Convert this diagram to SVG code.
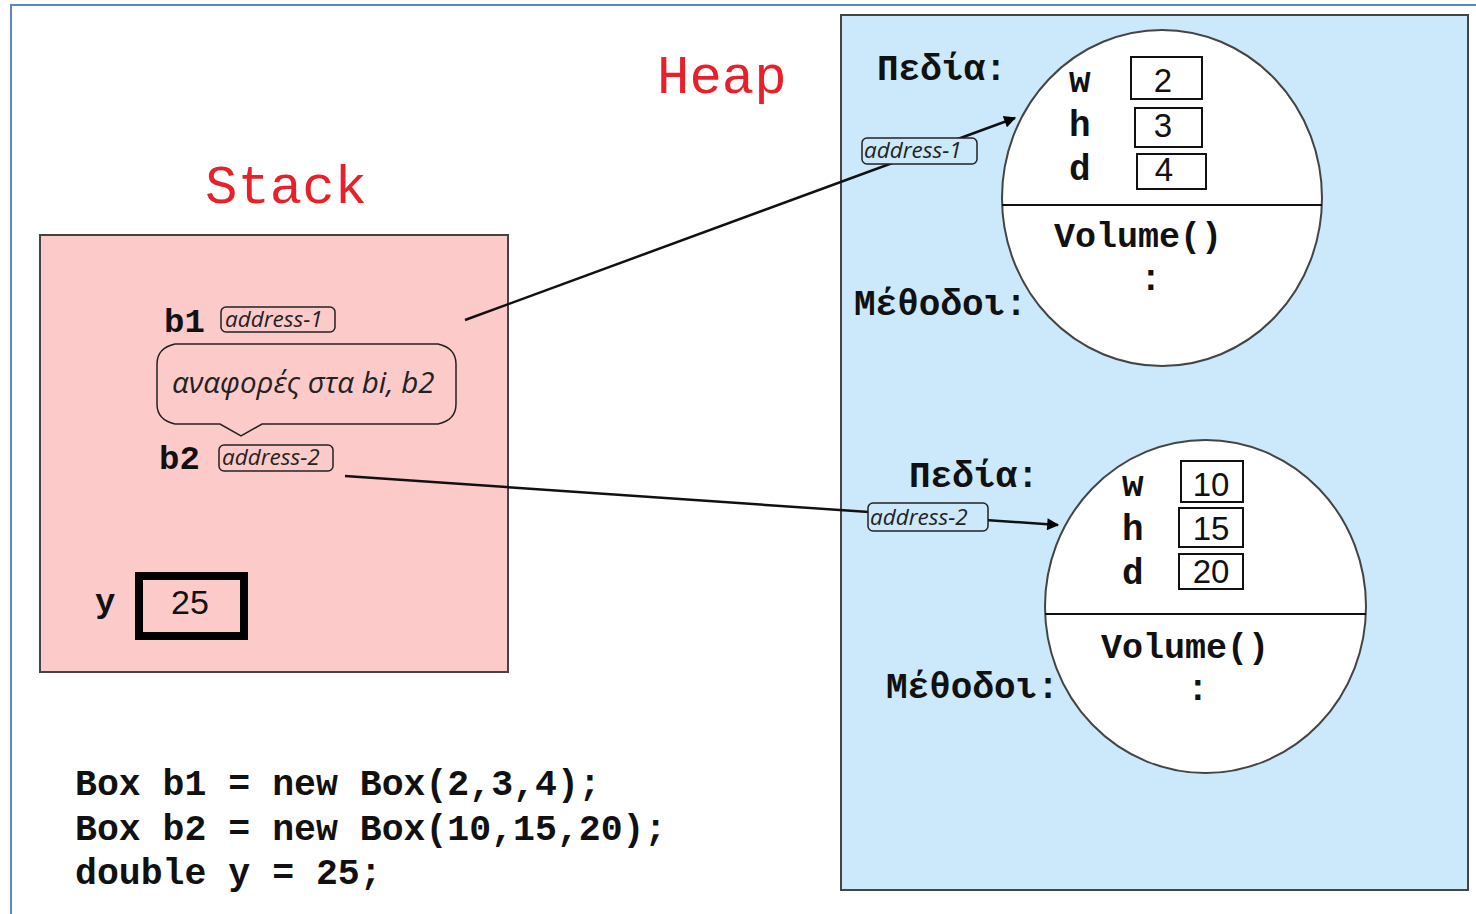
<svg xmlns="http://www.w3.org/2000/svg" width="1476" height="914" viewBox="0 0 1476 914">
  <defs>
    <marker id="arrow" viewBox="0 0 10 10" refX="9" refY="5" markerWidth="16" markerHeight="12" markerUnits="userSpaceOnUse" orient="auto">
      <path d="M0,0 L10,5 L0,10 z" fill="#000"/>
    </marker>
    <style>
      .mono { font-family: "Liberation Mono", "Courier New", monospace; font-weight: bold; fill: #111; }
      .title { font-family: "Liberation Mono", "Courier New", monospace; fill: #e8202a; font-size: 54px; }
      .lbl { font-size: 36px; }
      .num { font-family: "Liberation Sans", Arial, sans-serif; font-size: 33px; fill: #111; text-anchor: middle; }
      .addr { font-family: "Open Sans", "Liberation Sans", sans-serif; font-style: italic; font-size: 22.5px; fill: #222; }
      .addrbox { stroke: #222; stroke-width: 1.5; }
      .obj { fill: #fff; stroke: #444; stroke-width: 2; }
      .div { stroke: #111; stroke-width: 1.8; }
      .cell { fill: #fff; stroke: #111; stroke-width: 2; }
      .conn { stroke: #111; stroke-width: 2.5; fill: none; }
    </style>
  </defs>

  <rect width="1476" height="914" fill="#fff"/>
  <!-- page frame -->
  <path d="M11,914 L11,5 L1476,5" fill="none" stroke="#5b87c8" stroke-width="2"/>

  <!-- titles -->
  <text class="title" x="205" y="203">Stack</text>
  <text class="title" x="657" y="93">Heap</text>

  <!-- heap area -->
  <g id="heap">
    <rect x="841" y="15" width="627" height="875" fill="#cce9fc" stroke="#444" stroke-width="2"/>
  </g>

  <!-- stack area -->
  <g id="stack">
    <rect x="40" y="235" width="468" height="437" fill="#fdcaca" stroke="#444" stroke-width="2"/>
  </g>

  <!-- connectors -->
  <g id="connectors">
    <line class="conn" x1="465" y1="320" x2="1015" y2="118" marker-end="url(#arrow)"/>
    <line class="conn" x1="345" y1="476" x2="1058" y2="525" marker-end="url(#arrow)"/>
  </g>

  <!-- b1 variable -->
  <g id="var-b1">
    <text class="mono lbl" x="164" y="332" style="font-size:34px">b1</text>
    <rect class="addrbox" x="221" y="307" width="114" height="25" rx="5" fill="#fdcaca"/>
    <text class="addr" x="225" y="327">address-1</text>
  </g>

  <!-- note callout -->
  <g id="note">
    <path d="M175,344 L438,344 Q456,348 456,364 L456,404 Q456,420 438,424 L262,424 L241,436 L220,424 L175,424 Q157,420 157,404 L157,364 Q157,348 175,344 Z" fill="#fdcaca" stroke="#222" stroke-width="1.5"/>
    <text x="172" y="393" font-family="Open Sans, Liberation Sans, sans-serif" font-style="italic" font-size="29.5" fill="#222">αναφορές στα bi, b2</text>
  </g>

  <!-- b2 variable -->
  <g id="var-b2">
    <text class="mono lbl" x="159" y="469" style="font-size:34px">b2</text>
    <rect class="addrbox" x="219" y="445" width="114" height="26" rx="5" fill="#fdcaca"/>
    <text class="addr" x="222" y="465">address-2</text>
  </g>

  <!-- y variable -->
  <g id="var-y">
    <text class="mono lbl" x="95" y="612" style="font-size:34px">y</text>
    <rect x="139" y="576" width="105" height="60" fill="none" stroke="#000" stroke-width="8"/>
    <text class="num" x="190" y="614" style="font-size:34px">25</text>
  </g>

  <!-- object 1 -->
  <g id="object-b1">
    <text class="mono lbl" x="877" y="80">Πεδία:</text>
    <text class="mono lbl" x="854" y="315">Μέθοδοι:</text>
    <ellipse class="obj" cx="1162" cy="198" rx="160" ry="168"/>
    <line class="div" x1="1002" y1="205" x2="1322" y2="205"/>
    <text class="mono lbl" x="1069" y="92">w</text>
    <text class="mono lbl" x="1069" y="136">h</text>
    <text class="mono lbl" x="1069" y="180">d</text>
    <rect class="cell" x="1131" y="57" width="71" height="42"/>
    <rect class="cell" x="1135" y="108" width="67" height="39"/>
    <rect class="cell" x="1137" y="154" width="69" height="35"/>
    <text class="num" x="1163" y="92">2</text>
    <text class="num" x="1163" y="137">3</text>
    <text class="num" x="1164" y="181">4</text>
    <text class="mono lbl" x="1054" y="247" style="font-size:35px">Volume()</text>
    <text class="mono lbl" x="1140" y="290">:</text>
    <rect class="addrbox" x="862" y="138" width="115" height="26" rx="5" fill="#cce9fc"/>
    <text class="addr" x="864" y="158">address-1</text>
  </g>

  <!-- object 2 -->
  <g id="object-b2">
    <text class="mono lbl" x="909" y="487">Πεδία:</text>
    <text class="mono lbl" x="886" y="698">Μέθοδοι:</text>
    <ellipse class="obj" cx="1205.5" cy="606.5" rx="160.5" ry="166.5"/>
    <line class="div" x1="1045" y1="614" x2="1366" y2="614"/>
    <text class="mono lbl" x="1122" y="496">w</text>
    <text class="mono lbl" x="1122" y="540">h</text>
    <text class="mono lbl" x="1122" y="584">d</text>
    <rect class="cell" x="1181" y="461" width="62" height="41"/>
    <rect class="cell" x="1179" y="508" width="64" height="39"/>
    <rect class="cell" x="1179" y="554" width="64" height="35"/>
    <text class="num" x="1211" y="496">10</text>
    <text class="num" x="1211" y="540">15</text>
    <text class="num" x="1211" y="583">20</text>
    <text class="mono lbl" x="1101" y="658" style="font-size:35px">Volume()</text>
    <text class="mono lbl" x="1187" y="700">:</text>
    <rect class="addrbox" x="868" y="503" width="120" height="28" rx="5" fill="#cce9fc"/>
    <text class="addr" x="870" y="525">address-2</text>
  </g>

  <!-- source code -->
  <g id="code">
    <text class="mono" x="75" y="795" font-size="36.5">Box b1 = new Box(2,3,4);</text>
    <text class="mono" x="75" y="840" font-size="36.5">Box b2 = new Box(10,15,20);</text>
    <text class="mono" x="75" y="884" font-size="36.5">double y = 25;</text>
  </g>
</svg>
